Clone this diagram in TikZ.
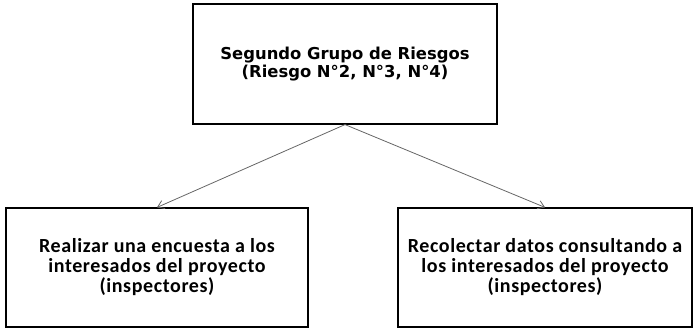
\documentclass[tikz,border=0pt]{standalone}
\usepackage{fontspec}
\setmainfont{Carlito}
\newfontfamily\titlefont{DejaVu Sans}
\usetikzlibrary{arrows.meta}

\begin{document}
\begin{tikzpicture}[x=1pt,y=1pt]
\tikzset{
  riskbox/.style={rectangle,draw,line width=1.2pt,align=center,font=\bfseries\fontsize{20}{20}\selectfont\addfontfeature{LetterSpace=3}},
  titlebox/.style={riskbox,font=\titlefont\bfseries\fontsize{16.4}{18.3}\selectfont},
  directed/.style={-{Straight Barb[length=2.2mm,width=3mm]},draw=gray!80!black,line width=0.8pt}
}
\useasboundingbox (0,0) rectangle (695,331);
\node[titlebox,minimum width=304pt,minimum height=120pt] (n_grupo) at (345,267) {Segundo Grupo de Riesgos\\(Riesgo N°2, N°3, N°4)};
\node[riskbox,minimum width=302pt,minimum height=119pt] (n_encuesta) at (157,63.5) {Realizar una encuesta a los\\interesados del proyecto\\(inspectores)};
\node[riskbox,minimum width=294pt,minimum height=119pt] (n_datos) at (545,63.5) {Recolectar datos consultando a\\los interesados del proyecto\\(inspectores)};
\draw[directed] (n_grupo.south) -- (n_encuesta.north);
\draw[directed] (n_grupo.south) -- (n_datos.north);
\end{tikzpicture}
\end{document}
